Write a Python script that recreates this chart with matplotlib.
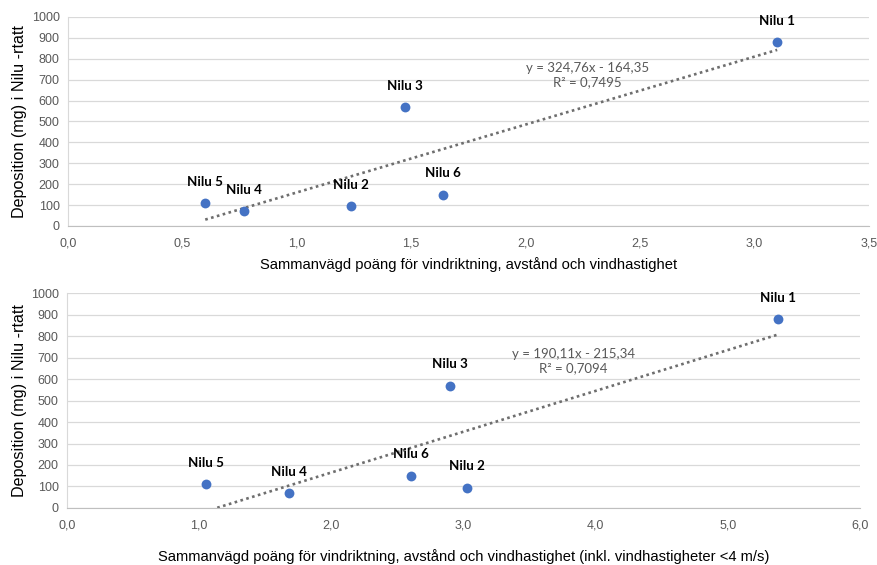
import matplotlib.pyplot as plt
import numpy as np

# deposition measured at each Nilu station
stations = ["Nilu 1", "Nilu 2", "Nilu 3", "Nilu 4", "Nilu 5", "Nilu 6"]
deposition = [880, 95, 570, 70, 110, 150]

# combined score, without and with wind speeds < 4 m/s
score_a = [3.10, 1.235, 1.475, 0.77, 0.60, 1.638]
score_b = [5.38, 3.03, 2.90, 1.68, 1.05, 2.60]

# linear trend lines as reported
trend_a = (324.76, -164.35, "0,7495")
trend_b = (190.11, -215.34, "0,7094")

BLUE = "#4472C4"
GRID = "#D9D9D9"
TXT = "#595959"
plt.rcParams["font.family"] = ["Liberation Sans", "DejaVu Sans"]


def fmt_comma(v, _pos=None):
    return f"{v:.1f}".replace(".", ",")


def scatter_panel(ax, x, y, trend, xmax, xstep, eq_pos, xlabel, xlabelpad):
    slope, icpt, r2 = trend
    ax.scatter(x, y, s=50, color=BLUE, zorder=3, linewidths=0)
    for name, xi, yi in zip(stations, x, y):
        ax.annotate(name, (xi, yi), xytext=(0, 11), textcoords="offset points",
                    ha="center", va="bottom", fontsize=9.6, fontweight="bold",
                    family=["Lato", "DejaVu Sans"], color="black")

    # trend line over the data range, kept above zero
    xs = np.linspace(min(x), max(x), 200)
    ys = slope * xs + icpt
    keep = ys >= 0
    ax.plot(xs[keep], ys[keep], color="#6E6E6E", lw=1.9, ls=(0, (1, 1.3)), zorder=2)
    ax.text(eq_pos[0], eq_pos[1],
            f"y = {slope:.2f}x - {abs(icpt):.2f}".replace(".", ",") + f"\nR² = {r2}",
            ha="center", va="center", fontsize=9.5, color=TXT, linespacing=1.25,
            family=["Lato", "DejaVu Sans"])

    ax.set_xlim(0, xmax)
    ax.set_ylim(0, 1000)
    ax.set_xticks(np.arange(0, xmax + 1e-9, xstep))
    ax.xaxis.set_major_formatter(fmt_comma)
    ax.set_yticks(np.arange(0, 1001, 100))
    ax.grid(axis="y", color=GRID, lw=0.9)
    ax.set_axisbelow(True)
    for side in ["top", "right"]:
        ax.spines[side].set_visible(False)
    ax.spines["left"].set_color(GRID)
    ax.spines["bottom"].set_color("#BFBFBF")
    ax.tick_params(length=0, labelsize=9, colors=TXT, pad=6)
    ax.tick_params(axis="x", pad=8)
    ax.set_xlabel(xlabel, fontsize=10.6, color="black", labelpad=xlabelpad)
    ax.set_ylabel("Deposition (mg) i Nilu -rtatt", fontsize=11.6, color="black", labelpad=3)


fig = plt.figure(figsize=(8.77, 5.65), dpi=100)
ax1 = fig.add_axes([0.0775, 0.600, 0.913, 0.370])
ax2 = fig.add_axes([0.0764, 0.101, 0.904, 0.380])

scatter_panel(ax1, score_a, deposition, trend_a, 3.5, 0.5, (2.27, 722),
              "Sammanvägd poäng för vindriktning, avstånd och vindhastighet", 6)
scatter_panel(ax2, score_b, deposition, trend_b, 6.0, 1.0, (3.83, 684),
              "Sammanvägd poäng för vindriktning, avstånd och vindhastighet (inkl. vindhastigheter <4 m/s)", 13)

fig.savefig("out.png", dpi=100, facecolor="white")
plt.close(fig)
